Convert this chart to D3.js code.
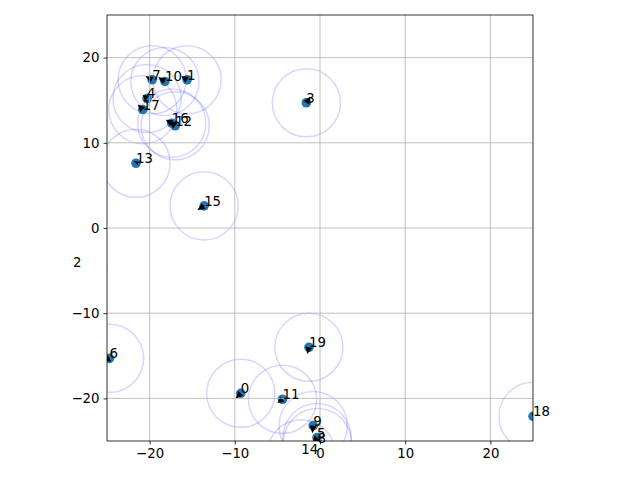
<!DOCTYPE html>
<html>
<head>
<meta charset="utf-8">
<script src="https://cdn.jsdelivr.net/npm/d3@7"></script>
<style>
  body { margin: 0; background: #fff; }
  text { font-family: "DejaVu Sans", sans-serif; }
</style>
</head>
<body>
<svg id="chart" width="640" height="480"></svg>
<script>
// Point labels and positions
let labels = ["0","1","2","3","4","5","6","7","8","9","10","11","12","13","14","15","16","17","18","19"];
let xs = [-9.3, -15.6, -29.0, -1.6, -20.3, -0.35, -24.7, -19.7, -0.3, -0.8, -18.2, -4.4, -17.0, -21.6, -2.2, -13.6, -17.4, -20.8, 25.0, -1.3];
let ys = [-19.4, 17.4, -4.6, 14.7, 15.2, -24.6, -15.3, 17.4, -25.2, -23.2, 17.2, -20.1, 12.0, 7.6, -26.5, 2.6, 12.3, 13.9, -22.1, -14.0];
// Arrow directions
let us = [-0.6, -0.7, 0.5, 0.5, -0.5, -0.5, -0.6, -0.8, 0.3, -0.1, -0.8, -0.6, -0.7, 0.2, 0.4, -0.8, -0.7, -0.6, 0.6, -0.2];
let vs = [-0.6, 0.4, 0.5, 0.7, 0.4, -0.5, -0.3, 0.4, 0.5, -0.9, 0.5, -0.4, 0.5, 0.2, 0.5, -0.5, 0.4, 0.6, 0.3, -0.8];
let ticks = [-20, -10, 0, 10, 20];
let circleRadius = 4;

let svg = d3.select("#chart");
let mLeft = 107, mRight = 533, mTop = 15, mBottom = 441;

let x = d3.scaleLinear().domain([-25, 25]).range([mLeft, mRight]);
let y = d3.scaleLinear().domain([-25, 25]).range([mBottom, mTop]);

svg.append("defs").append("clipPath").attr("id", "clip")
  .append("rect")
  .attr("x", mLeft).attr("y", mTop)
  .attr("width", mRight - mLeft).attr("height", mBottom - mTop);

let plot = svg.append("g").attr("clip-path", "url(#clip)");

// circles (patches)
plot.selectAll("circle.ring")
  .data(labels)
  .enter()
  .append("circle")
  .attr("class", "ring")
  .attr("cx", (d, i) => x(xs[i]))
  .attr("cy", (d, i) => y(ys[i]))
  .attr("r", x(circleRadius) - x(0))
  .attr("fill", "none")
  .attr("stroke", "blue")
  .attr("stroke-opacity", 0.16)
  .attr("stroke-width", 1.5);

// grid
let grid = svg.append("g");
ticks.forEach(function(t) {
  grid.append("line")
    .attr("x1", x(t)).attr("x2", x(t))
    .attr("y1", mTop).attr("y2", mBottom)
    .attr("stroke", "#b0b0b0").attr("stroke-width", 0.8);
  grid.append("line")
    .attr("x1", mLeft).attr("x2", mRight)
    .attr("y1", y(t)).attr("y2", y(t))
    .attr("stroke", "#b0b0b0").attr("stroke-width", 0.8);
});

// scatter points
plot.selectAll("circle.pt")
  .data(labels)
  .enter()
  .append("circle")
  .attr("class", "pt")
  .attr("cx", (d, i) => x(xs[i]))
  .attr("cy", (d, i) => y(ys[i]))
  .attr("r", 4.8)
  .attr("fill", "#1f77b4");

// quiver arrows
function arrowPath(i) {
  let x0 = x(xs[i]), y0 = y(ys[i]);
  let x1 = x(xs[i] + us[i]), y1 = y(ys[i] + vs[i]);
  let dx = x1 - x0, dy = y1 - y0;
  let len = Math.sqrt(dx * dx + dy * dy);
  let ux = dx / len, uy = dy / len;
  let nx = -uy, ny = ux;
  let hl = Math.min(len, 7.5), hw = 3.4, sw = 1.0;
  let bx = x1 - ux * hl, by = y1 - uy * hl;
  let pts = [
    [x0 + nx * sw, y0 + ny * sw],
    [bx + nx * sw, by + ny * sw],
    [bx + nx * hw, by + ny * hw],
    [x1, y1],
    [bx - nx * hw, by - ny * hw],
    [bx - nx * sw, by - ny * sw],
    [x0 - nx * sw, y0 - ny * sw]
  ];
  return "M" + pts.map(p => p[0].toFixed(2) + "," + p[1].toFixed(2)).join("L") + "Z";
}

plot.selectAll("path.arrow")
  .data(labels)
  .enter()
  .append("path")
  .attr("class", "arrow")
  .attr("d", (d, i) => arrowPath(i))
  .attr("fill", "black");

// spines
svg.append("rect")
  .attr("x", mLeft).attr("y", mTop)
  .attr("width", mRight - mLeft).attr("height", mBottom - mTop)
  .attr("fill", "none").attr("stroke", "black").attr("stroke-width", 0.8);

// axes
let fmt = d => d < 0 ? "\u2212" + Math.abs(d) : String(d);
let xAxis = svg.append("g")
  .attr("transform", "translate(0," + mBottom + ")")
  .call(d3.axisBottom(x).tickValues(ticks).tickSize(3.5).tickPadding(4).tickFormat(fmt));
let yAxis = svg.append("g")
  .attr("transform", "translate(" + mLeft + ",0)")
  .call(d3.axisLeft(y).tickValues(ticks).tickSize(3.5).tickPadding(4).tickFormat(fmt));
[xAxis, yAxis].forEach(function(a) {
  a.select(".domain").remove();
  a.selectAll(".tick line").attr("stroke", "black").attr("stroke-width", 0.8);
  a.selectAll(".tick text")
    .attr("fill", "black")
    .style("font-size", "13.3px")
    .style("font-family", "DejaVu Sans, sans-serif");
});

// point labels (not clipped)
svg.selectAll("text.lbl")
  .data(labels)
  .enter()
  .append("text")
  .attr("class", "lbl")
  .attr("x", (d, i) => x(xs[i]))
  .attr("y", (d, i) => y(ys[i]))
  .style("font-size", "13.3px")
  .attr("fill", "black")
  .text(d => d);
</script>
</body>
</html>
